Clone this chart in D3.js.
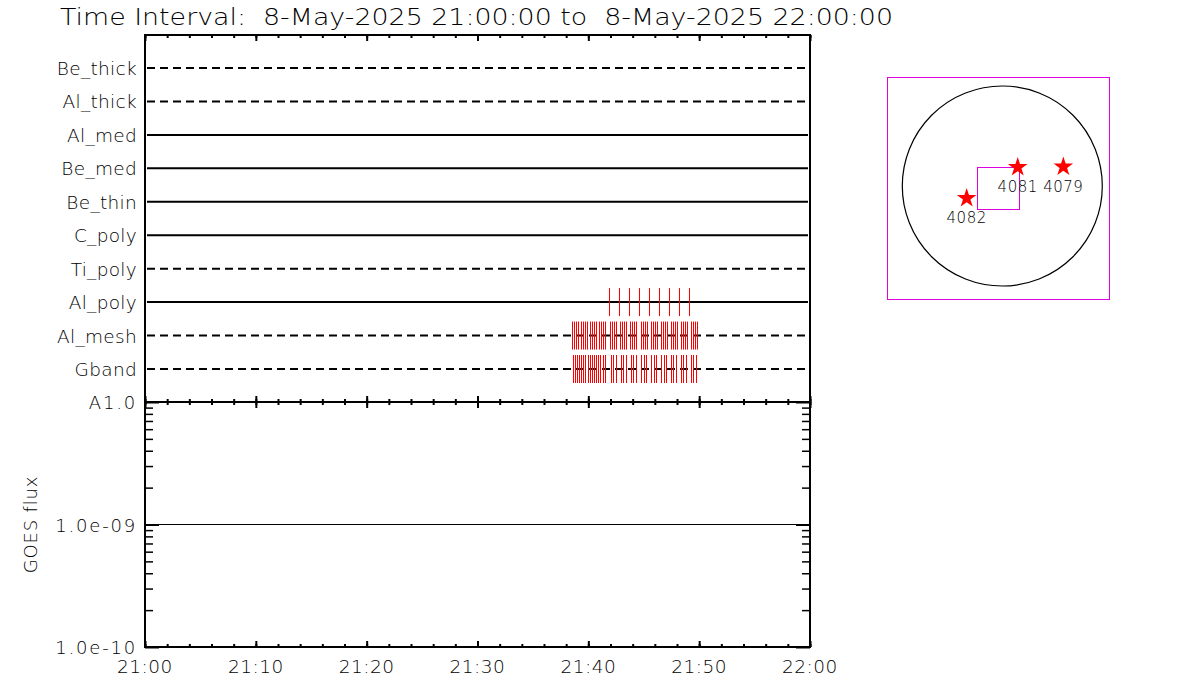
<!DOCTYPE html>
<html><head><meta charset="utf-8">
<script src="https://cdn.jsdelivr.net/npm/d3@7"></script>
<style>body{margin:0;background:#fff} text{font-family:"DejaVu Sans",sans-serif;font-weight:300;fill:#000}</style>
</head><body><svg id="c" width="1200" height="700"></svg>
<script>
// ---------------- data ----------------
const titleText = "Time Interval:  8-May-2025 21:00:00 to  8-May-2025 22:00:00";
const timeRange = ["21:00:00", "22:00:00"];
const rowNames = ["Be_thick","Al_thick","Al_med","Be_med","Be_thin","C_poly","Ti_poly","Al_poly","Al_mesh","Gband"];
const dashedRows = ["Be_thick","Al_thick","Ti_poly","Al_mesh","Gband"];
const alPolyTimes = ["21:41:53","21:42:47","21:43:41","21:44:36","21:45:30","21:46:24","21:47:18","21:48:12","21:49:06"];
const alMeshTimes = [
 "21:38:32","21:38:42","21:38:53","21:39:04","21:39:20","21:39:31","21:39:42","21:39:53",
 "21:40:09","21:40:20","21:40:31","21:40:41","21:40:58","21:41:09","21:41:19","21:41:30",
 "21:41:57","21:42:08","21:42:19","21:42:30","21:42:51","21:43:02","21:43:13","21:43:24",
 "21:43:46","21:43:56","21:44:07","21:44:18","21:44:45","21:44:56","21:45:07","21:45:18",
 "21:45:39","21:45:50","21:46:01","21:46:12","21:46:33","21:46:44","21:46:55","21:47:06",
 "21:47:28","21:47:38","21:47:49","21:48:00","21:48:22","21:48:32","21:48:43","21:48:54",
 "21:49:16","21:49:27","21:49:37","21:49:48"];
const gbandTimes = [
 "21:38:37","21:38:48","21:38:59","21:39:09","21:39:20","21:39:31","21:39:42","21:39:58",
 "21:40:09","21:40:20","21:40:31","21:40:41","21:40:52","21:41:03","21:41:19","21:41:30",
 "21:42:03","21:42:16","21:42:30","21:42:57","21:43:10","21:43:24","21:43:51","21:44:04",
 "21:44:18","21:44:45","21:44:59","21:45:12","21:45:39","21:45:53","21:46:06","21:46:33",
 "21:46:47","21:47:00","21:47:28","21:47:41","21:47:55","21:48:22","21:48:35","21:48:49",
 "21:49:16","21:49:29","21:49:43"];
const xTickLabels = ["21:00","21:10","21:20","21:30","21:40","21:50","22:00"];
const goesTimes = ["21:00:00","21:58:50"];
const goesFlux = [1e-9, 1e-9];
const goesTickValues = [1e-10, 1e-9, 1e-8];
const goesTickLabels = ["1.0e-10","1.0e-09","A1.0"];
const goesYLabel = "GOES flux";
const arNumbers = ["4082","4081","4079"];
const arXarcsec = [-342, 148, 586];
const arYarcsec = [-118, 180, 185];
const fovXarcsec = [-243, 160];
const fovYarcsec = [-224, 180];
const solarRadiusArcsec = 960;

// ---------------- helpers ----------------
const toDate = s => { const [h,m,sec] = s.split(":").map(Number); return new Date(Date.UTC(2025,4,8,h,m,sec)); };
const svg = d3.select("#c");

const L = 145, R = 810, T = 35, M = 402, B = 647;
const x = d3.scaleUtc().domain(timeRange.map(toDate)).range([L, R]);
const yRow = d3.scalePoint().domain(rowNames).range([68, 369]);
const yG = d3.scaleLog().domain([1e-10, 1e-8]).range([B, M]);

// title
svg.append("text").attr("x", 60).attr("y", 25).attr("font-size", 23)
  .attr("textLength", 833).attr("lengthAdjust", "spacingAndGlyphs")
  .style("white-space","pre").text(titleText);

// row lines
const rows = svg.append("g");
rowNames.forEach(n => {
  const dashed = dashedRows.includes(n);
  rows.append("line").attr("x1", L + 2).attr("x2", n === "Ti_poly" ? 805 : R - 2)
    .attr("y1", yRow(n)).attr("y2", yRow(n))
    .attr("stroke", "#000").attr("stroke-width", 2)
    .attr("stroke-dasharray", dashed ? "8,5" : null);
  rows.append("text").attr("x", 137).attr("y", yRow(n) + 7).attr("font-size", 18.5)
    .attr("letter-spacing", 0.3).attr("text-anchor", "end").text(n);
});

// red event ticks
function drawTicks(times, row) {
  svg.append("g").selectAll("line").data(times).join("line")
    .attr("x1", d => Math.round(x(toDate(d))) + 0.5).attr("x2", d => Math.round(x(toDate(d))) + 0.5)
    .attr("y1", yRow(row) - 14).attr("y2", yRow(row) + 14)
    .attr("stroke", "#ff0000").attr("stroke-width", 1);
}
drawTicks(alPolyTimes, "Al_poly");
drawTicks(alMeshTimes, "Al_mesh");
drawTicks(gbandTimes, "Gband");

// time axes (minor every 2 min, major every 10 min)
const minorT = d3.utcMinute.every(2).range(toDate("21:00:00"), toDate("22:00:01"));
const majorT = xTickLabels.map(s => toDate(s + ":00"));
[[T, d3.axisTop], [M, d3.axisBottom], [M, d3.axisTop], [B, d3.axisBottom]].forEach(([y, gen]) => {
  svg.append("g").attr("transform", `translate(0,${y})`)
    .call(gen(x).tickValues(minorT).tickSize(-3).tickSizeOuter(0).tickFormat(""))
    .call(g => g.select(".domain").remove()).call(g => g.selectAll("line").attr("stroke-width", 2));
  svg.append("g").attr("transform", `translate(0,${y})`)
    .call(gen(x).tickValues(majorT).tickSize(-6).tickFormat(""))
    .call(g => g.select(".domain").remove()).call(g => g.selectAll("line").attr("stroke-width", 2));
});
// bottom labels
svg.append("g").selectAll("text").data(xTickLabels).join("text")
  .attr("x", d => x(toDate(d + ":00"))).attr("y", 673).attr("font-size", 18.5)
  .attr("letter-spacing", 0.5).attr("text-anchor", "middle").text(d => d);

// GOES panel log axes
const minorV = [];
[1e-10, 1e-9].forEach(dec => { for (let m = 2; m <= 9; m++) minorV.push(m * dec); });
[[L, d3.axisLeft], [R, d3.axisRight]].forEach(([xx, gen]) => {
  svg.append("g").attr("transform", `translate(${xx},0)`)
    .call(gen(yG).tickValues(minorV).tickSize(-8).tickFormat(""))
    .call(g => g.select(".domain").remove()).call(g => g.selectAll("line").attr("stroke-width", 1.5));
  svg.append("g").attr("transform", `translate(${xx},0)`)
    .call(gen(yG).tickValues(goesTickValues).tickSize(-14).tickFormat(""))
    .call(g => g.select(".domain").remove()).call(g => g.selectAll("line").attr("stroke-width", 2));
});
svg.append("g").selectAll("text").data(goesTickValues).join("text")
  .attr("x", 137).attr("y", d => yG(d) + 7).attr("font-size", 18).attr("letter-spacing", 1.8)
  .attr("text-anchor", "end").text((d, i) => goesTickLabels[i]);
svg.append("text").attr("transform", `translate(37,${(M + B) / 2}) rotate(-90)`)
  .attr("text-anchor", "middle").attr("font-size", 18).attr("letter-spacing", 0.8).text(goesYLabel);

// GOES data line
svg.append("path").datum(goesTimes.map((t, i) => [toDate(t), goesFlux[i]]))
  .attr("d", d3.line().x(d => x(d[0])).y(d => Math.round(yG(d[1])) + 0.5))
  .attr("fill", "none").attr("stroke", "#000").attr("stroke-width", 1);

// frames
svg.append("rect").attr("x", L).attr("y", T).attr("width", R - L).attr("height", M - T)
  .attr("fill", "none").attr("stroke", "#000").attr("stroke-width", 2);
svg.append("rect").attr("x", L).attr("y", M).attr("width", R - L).attr("height", B - M)
  .attr("fill", "none").attr("stroke", "#000").attr("stroke-width", 2);

// ---------------- solar map ----------------
const cx = 1002.3, cy = 186, rPx = 100;
const sx = d3.scaleLinear().domain([-solarRadiusArcsec, solarRadiusArcsec]).range([cx - rPx, cx + rPx]);
const sy = d3.scaleLinear().domain([-solarRadiusArcsec, solarRadiusArcsec]).range([cy + rPx, cy - rPx]);
const snap = v => Math.round(v) + 0.5;
const map = svg.append("g");
map.append("rect").attr("x", 887.5).attr("y", 77.5).attr("width", 222).attr("height", 222)
  .attr("fill", "none").attr("stroke", "#e000e0").attr("stroke-width", 1);
map.append("circle").attr("cx", sx(0)).attr("cy", sy(0)).attr("r", sx(solarRadiusArcsec) - sx(0))
  .attr("fill", "none").attr("stroke", "#000").attr("stroke-width", 1.2);
const fx0 = snap(sx(fovXarcsec[0])), fx1 = snap(sx(fovXarcsec[1]));
const fy0 = snap(sy(fovYarcsec[1])), fy1 = snap(sy(fovYarcsec[0]));
map.append("rect").attr("x", fx0).attr("y", fy0).attr("width", fx1 - fx0).attr("height", fy1 - fy0)
  .attr("fill", "none").attr("stroke", "#e000e0").attr("stroke-width", 1);
const star = d3.symbol(d3.symbolStar, 118);
arNumbers.forEach((n, i) => {
  map.append("path").attr("d", star()).attr("fill", "#ff0000")
    .attr("transform", `translate(${sx(arXarcsec[i])},${sy(arYarcsec[i])})`);
  map.append("text").attr("x", sx(arXarcsec[i])).attr("y", sy(arYarcsec[i]) + 25)
    .attr("text-anchor", "middle").attr("font-size", 15).attr("letter-spacing", 0.5).text(n);
});
</script></body></html>
